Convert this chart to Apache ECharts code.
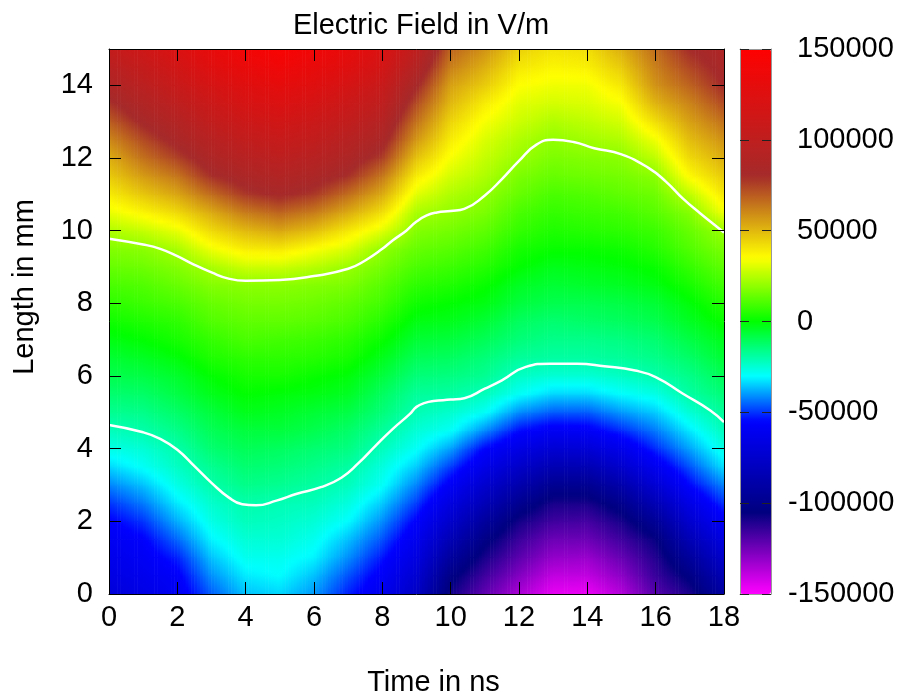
<!DOCTYPE html>
<html><head><meta charset="utf-8">
<script src="https://cdn.jsdelivr.net/npm/echarts@6/dist/echarts.min.js"></script>
<style>html,body{margin:0;padding:0;background:#fff}#c{width:900px;height:697px}</style>
</head><body><div id="c"></div>
<script>
// ---- data ----
const timeNs = [0,1,2,3,4,5,6,7,8,9,10,11,12,13,14,15,16,17,18];
const lengthMm = [0,0.5,1,1.5,2,2.5,3,3.5,4,4.5,5,5.5,6,6.5,7,7.5,8,8.5,9,9.5,10,10.5,11,11.5,12,12.5,13,13.5,14,14.5,15];
// electric field in V/m; one row per time value, entries follow lengthMm
const fieldByTime = [
 [-70000,-66000,-63000,-60000,-56000,-50000,-42000,-34000,-27000,-22000,-17000,-13000,-9000,-6000,-2000,2000,6000,10000,14000,18000,24000,32000,39000,46000,52000,60000,69000,78000,87000,95000,104000],
 [-65000,-62000,-59000,-56000,-50000,-43000,-36000,-29000,-25000,-20000,-16000,-12000,-8000,-4000,0,4000,8000,11000,15000,19000,27000,37000,47000,56000,65000,73000,82000,89000,97000,104000,112000],
 [-60000,-57000,-52000,-45000,-38000,-32000,-27000,-23000,-20000,-16000,-12000,-8000,-5000,-1000,3000,6000,10000,14000,18000,23000,32000,43000,54000,64000,75000,84000,91000,99000,107000,114000,122000],
 [-46000,-41000,-36000,-31000,-27000,-24000,-20000,-17000,-13000,-10000,-7000,-3000,0,4000,7000,11000,14000,18000,23000,33000,43000,53000,66000,79000,87000,94000,102000,109000,117000,125000,132000],
 [-36000,-32000,-28000,-25000,-22000,-20000,-16000,-13000,-10000,-7000,-3000,0,3000,6000,10000,13000,16000,19000,28000,39000,50000,63000,77000,86000,94000,102000,110000,118000,125000,133000,141000],
 [-34000,-30000,-28000,-25000,-23000,-21000,-17000,-14000,-11000,-7000,-4000,-1000,3000,6000,9000,13000,16000,19000,28000,40000,54000,68000,82000,90000,98000,106000,114000,122000,130000,138000,146000],
 [-40000,-36000,-31000,-28000,-25000,-22000,-19000,-16000,-13000,-9000,-6000,-2000,1000,5000,8000,12000,15000,18000,25000,35000,49000,63000,77000,86000,94000,102000,109000,117000,125000,132000,140000],
 [-52000,-47000,-41000,-36000,-30000,-26000,-22000,-19000,-15000,-12000,-8000,-4000,-1000,3000,6000,10000,13000,17000,21000,30000,40000,53000,66000,79000,87000,94000,102000,109000,117000,125000,132000],
 [-62000,-58000,-53000,-47000,-41000,-35000,-29000,-26000,-22000,-18000,-14000,-11000,-7000,-3000,1000,5000,9000,12000,16000,20000,31000,42000,53000,64000,76000,85000,92000,100000,107000,115000,122000],
 [-78000,-73000,-67000,-62000,-56000,-49000,-42000,-35000,-29000,-25000,-21000,-18000,-14000,-10000,-6000,-2000,2000,6000,10000,14000,18000,23000,31000,39000,48000,57000,65000,73000,82000,91000,100000],
 [-108000,-102000,-93000,-84000,-75000,-67000,-58000,-49000,-39000,-29000,-24000,-19000,-15000,-11000,-7000,-3000,0,4000,8000,12000,16000,20000,24000,29000,34000,39000,44000,50000,55000,62000,68000],
 [-122000,-116000,-109000,-102000,-93000,-83000,-74000,-64000,-55000,-41000,-29000,-22000,-17000,-14000,-10000,-6000,-2000,1000,5000,9000,13000,17000,20000,24000,27000,30000,34000,39000,46000,52000,58000],
 [-135000,-128000,-121000,-115000,-108000,-98000,-87000,-76000,-65000,-54000,-41000,-29000,-23000,-18000,-14000,-11000,-7000,-4000,0,3000,7000,10000,14000,17000,21000,24000,28000,31000,35000,40000,45000],
 [-146000,-139000,-131000,-124000,-116000,-109000,-98000,-85000,-72000,-59000,-46000,-34000,-25000,-19000,-16000,-13000,-9000,-6000,-3000,1000,4000,7000,10000,14000,17000,20000,24000,29000,33000,37000,41000],
 [-147000,-139000,-132000,-124000,-117000,-109000,-98000,-85000,-71000,-58000,-46000,-34000,-25000,-19000,-16000,-12000,-9000,-5000,-2000,1000,5000,8000,11000,15000,18000,22000,26000,30000,33000,38000,42000],
 [-137000,-130000,-123000,-116000,-109000,-100000,-88000,-75000,-63000,-51000,-40000,-30000,-23000,-18000,-15000,-11000,-8000,-4000,-1000,2000,6000,9000,13000,16000,19000,24000,29000,34000,40000,46000,52000],
 [-120000,-115000,-111000,-106000,-96000,-84000,-72000,-61000,-51000,-43000,-35000,-27000,-20000,-16000,-13000,-9000,-6000,-2000,1000,5000,8000,12000,15000,19000,26000,33000,42000,51000,58000,62000,66000],
 [-110000,-103000,-94000,-84000,-74000,-65000,-55000,-47000,-39000,-32000,-25000,-19000,-16000,-12000,-8000,-4000,-1000,3000,7000,11000,14000,18000,26000,36000,43000,49000,55000,61000,68000,74000,80000],
 [-92000,-84000,-75000,-67000,-58000,-50000,-42000,-33000,-27000,-22000,-18000,-14000,-10000,-6000,-3000,1000,5000,9000,13000,17000,21000,33000,40000,46000,52000,58000,65000,73000,80000,84000,88000]
];
// white contour lines (time in ns, length in mm)
const upperContourTime = [0,1,1.5,2,2.5,3,3.5,4,5,6,7,7.5,8,8.3,8.7,9,9.3,9.6,10,10.4,11,11.5,12,12.5,13,13.6,14.2,15,15.8,16.3,16.8,17.3,17.8,18];
const upperContourLength = [9.78,9.62,9.5,9.3,9.06,8.85,8.68,8.62,8.64,8.75,8.95,9.18,9.5,9.73,10.0,10.25,10.42,10.5,10.54,10.6,10.97,11.42,11.92,12.36,12.5,12.44,12.27,12.1,11.72,11.35,10.88,10.48,10.1,9.95];
const lowerContourTime = [0,1,1.5,2,2.5,3,3.5,3.9,4.3,4.9,5.5,6.2,6.8,7.3,7.8,8.3,8.8,9,9.25,9.5,10,10.4,11,11.5,12.2,12.9,13.7,14.5,15.4,16,16.8,17.6,18];
const lowerContourLength = [4.65,4.45,4.27,3.97,3.52,3.06,2.66,2.47,2.44,2.57,2.76,2.94,3.2,3.6,4.08,4.54,4.95,5.15,5.26,5.31,5.35,5.39,5.65,5.88,6.25,6.34,6.34,6.27,6.15,5.97,5.51,5.05,4.73];

// ---- palette (style) ----
const paletteValues = [-150000,-105000,-55000,-30000,0,35000,80000,150000];
const paletteHex = ['#ff00ff','#000080','#0000ff','#00ffff','#00ff00','#ffff00','#a52a2a','#ff0000'];

function hexRgb(h){return [parseInt(h.substr(1,2),16),parseInt(h.substr(3,2),16),parseInt(h.substr(5,2),16)];}
const paletteRgb = paletteHex.map(hexRgb);
function paletteAt(v){
  if (v<=paletteValues[0]) return paletteHex[0];
  for (let k=0;k<paletteValues.length-1;k++){
    if (v<=paletteValues[k+1]){
      const f=(v-paletteValues[k])/(paletteValues[k+1]-paletteValues[k]);
      const a=paletteRgb[k], b=paletteRgb[k+1];
      return 'rgb('+a.map((c,i)=>Math.round(c+(b[i]-c)*f)).join(',')+')';
    }
  }
  return paletteHex[paletteHex.length-1];
}
const rampColors=[];
for (let v=-150000; v<=150000; v+=2500) rampColors.push(paletteAt(v));

// one item per grid node: [time, length, field, timeIndex, lengthIndex]
const cells=[];
timeNs.forEach((t,i)=>lengthMm.forEach((y,j)=>cells.push([t,y,fieldByTime[i][j],i,j])));
const upperLine = upperContourTime.map((t,i)=>[t,upperContourLength[i]]);
const lowerLine = lowerContourTime.map((t,i)=>[t,lowerContourLength[i]]);

const FONT='Liberation Sans, Arial, sans-serif';
const txt={fontFamily:FONT,fontSize:29,color:'#000'};

// shaded patch between node (i,j) and its neighbours (pm3d-like smooth shading)
const STRIPS=12, STOPS=4;
function renderCell(params, api){
  const i=api.value(3), j=api.value(4);
  if (i>=timeNs.length-1 || j>=lengthMm.length-1) return null;
  const p0=api.coord([timeNs[i],lengthMm[j]]);
  const p1=api.coord([timeNs[i+1],lengthMm[j+1]]);
  const v00=fieldByTime[i][j], v10=fieldByTime[i+1][j];
  const v01=fieldByTime[i][j+1], v11=fieldByTime[i+1][j+1];
  const w=(p1[0]-p0[0])/STRIPS, top=p1[1], h=p0[1]-p1[1];
  const children=[];
  for (let k=0;k<STRIPS;k++){
    const f=(k+0.5)/STRIPS;
    const vb=v00+(v10-v00)*f, vt=v01+(v11-v01)*f;
    const stops=[];
    for (let s=0;s<=STOPS;s++){
      const g=s/STOPS;
      stops.push({offset:g,color:paletteAt(vb+(vt-vb)*g)});
    }
    children.push({type:'rect',
      shape:{x:p0[0]+k*w-0.3,y:top-0.4,width:w+0.6,height:h+0.8},
      style:{fill:new echarts.graphic.LinearGradient(0,1,0,0,stops)}});
  }
  return {type:'group',children:children};
}

const chart=echarts.init(document.getElementById('c'),null,{renderer:'canvas'});
const blackLine={show:true,onZero:false,lineStyle:{color:'#000',width:1}};
const inTick={show:true,inside:true,length:12,lineStyle:{color:'#000',width:1}};
const cbLine={show:true,onZero:false,lineStyle:{color:'#999',width:1}};
chart.setOption({
  animation:false,
  backgroundColor:'#fff',
  title:{text:'Electric Field in V/m',left:416,textAlign:'center',top:6,
    textStyle:Object.assign({},txt,{fontWeight:'normal'})},
  grid:[
    {left:109,top:49,width:615,height:545,containLabel:false,outerBoundsMode:'none'},
    {left:740,top:49,width:31,height:545,containLabel:false,outerBoundsMode:'none'}
  ],
  xAxis:[
    {gridIndex:0,type:'value',min:0,max:18,interval:2,position:'bottom',z:5,
     axisLine:blackLine,axisTick:inTick,splitLine:{show:false},
     axisLabel:Object.assign({margin:9},txt),
     name:'Time in ns',nameLocation:'middle',nameGap:74,nameMoveOverlap:false,
     nameTextStyle:Object.assign({padding:[0,0,0,34]},txt)},
    {gridIndex:0,type:'value',min:0,max:18,interval:2,position:'top',z:5,
     axisLine:blackLine,axisTick:inTick,splitLine:{show:false},axisLabel:{show:false}},
    {gridIndex:1,type:'value',min:0,max:1,position:'bottom',z:6,
     axisLine:cbLine,axisTick:{show:false},axisLabel:{show:false},splitLine:{show:false}},
    {gridIndex:1,type:'value',min:0,max:1,position:'top',z:6,
     axisLine:cbLine,axisTick:{show:false},axisLabel:{show:false},splitLine:{show:false}}
  ],
  yAxis:[
    {gridIndex:0,type:'value',min:0,max:15,interval:2,position:'left',z:5,
     axisLine:blackLine,axisTick:inTick,splitLine:{show:false},
     axisLabel:Object.assign({margin:16,showMaxLabel:false,formatter:v=>String(v)},txt),
     name:'Length in mm',nameLocation:'middle',nameGap:70,nameRotate:90,nameMoveOverlap:false,
     nameTextStyle:Object.assign({padding:[0,0,0,69]},txt)},
    {gridIndex:0,type:'value',min:0,max:15,interval:2,position:'right',z:5,
     axisLine:blackLine,axisTick:inTick,splitLine:{show:false},axisLabel:{show:false}},
    {gridIndex:1,type:'value',min:-150000,max:150000,interval:50000,position:'left',z:6,
     axisLine:cbLine,axisTick:{show:true,inside:true,length:9,lineStyle:{color:'#222'}},
     axisLabel:{show:false},splitLine:{show:false}},
    {gridIndex:1,type:'value',min:-150000,max:150000,interval:50000,position:'right',z:6,
     axisLine:cbLine,axisTick:{show:true,inside:true,length:9,lineStyle:{color:'#222'}},
     axisLabel:Object.assign({margin:26,align:'left',formatter:v=>v>=0?String(v):''},txt),
     splitLine:{show:false}},
    {gridIndex:1,type:'value',min:-150000,max:150000,interval:50000,position:'right',z:6,
     axisLine:{show:false,onZero:false},axisTick:{show:false},
     axisLabel:Object.assign({margin:17,align:'left',formatter:v=>v<0?String(v):''},txt),
     splitLine:{show:false}}
  ],
  visualMap:{type:'continuous',min:-150000,max:150000,dimension:2,seriesIndex:0,
    calculable:false,orient:'vertical',left:740,top:49,itemWidth:31,itemHeight:545,
    padding:0,text:null,showLabel:false,inRange:{color:rampColors}},
  series:[
    {type:'custom',xAxisIndex:0,yAxisIndex:0,data:cells,renderItem:renderCell,
     encode:{x:0,y:1},silent:true,z:1,clip:true},
    {type:'line',xAxisIndex:0,yAxisIndex:0,data:upperLine,smooth:0.5,symbol:'none',
     lineStyle:{color:'#fff',width:2.5},silent:true,z:3},
    {type:'line',xAxisIndex:0,yAxisIndex:0,data:lowerLine,smooth:0.5,symbol:'none',
     lineStyle:{color:'#fff',width:2.5},silent:true,z:3}
  ]
});
</script></body></html>
